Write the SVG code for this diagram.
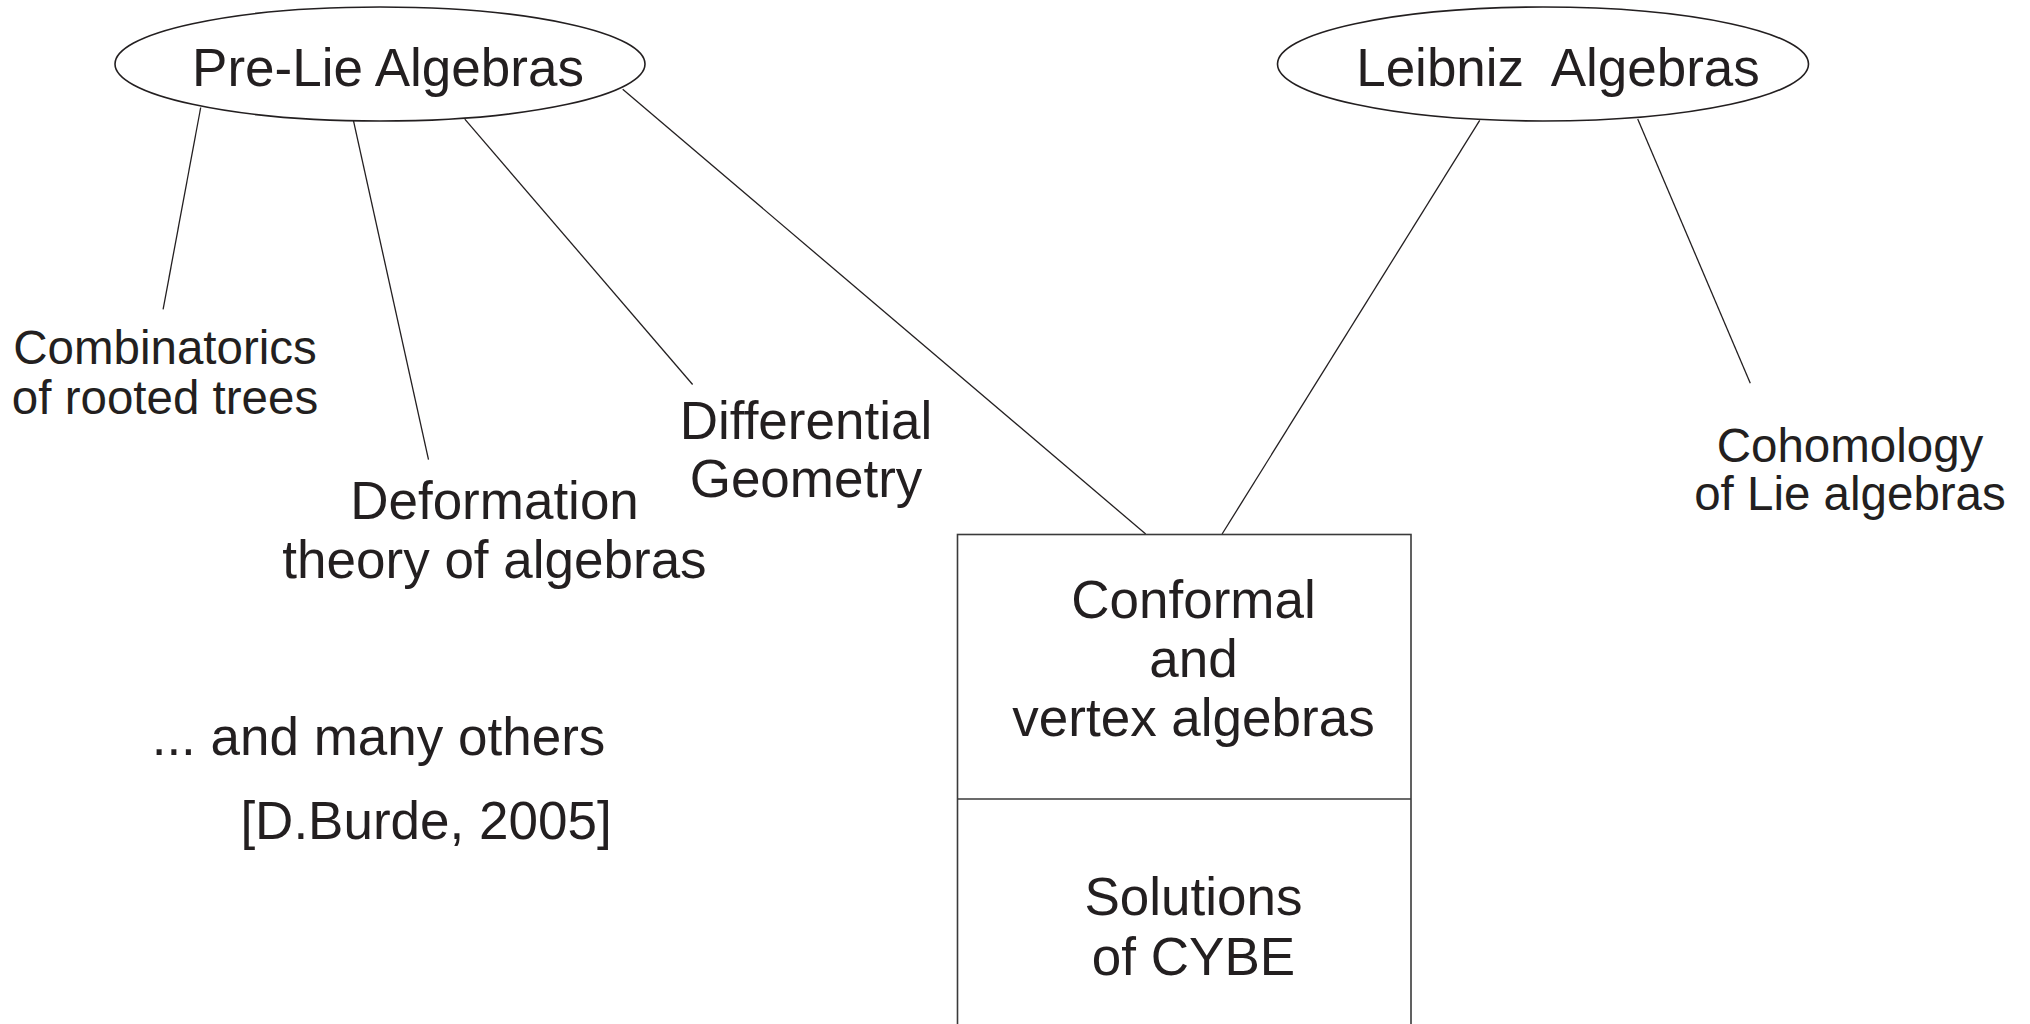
<svg xmlns="http://www.w3.org/2000/svg" width="2030" height="1024" viewBox="0 0 2030 1024">
<style>
.t{font-family:"Liberation Sans",Arial,sans-serif;fill:#231f20;text-anchor:middle}
.big{font-size:53px}
.mid{font-size:47.5px}
.ell{fill:none;stroke:#231f20;stroke-width:1.6}
.box{fill:none;stroke:#3a3a3a;stroke-width:1.6}
.conn line{stroke:#231f20;stroke-width:1.3}
</style>
<rect width="2030" height="1024" fill="#fff"/>
<g id="connectors" class="conn">
<line x1="200.7" y1="107.5" x2="163.1" y2="309.4"/>
<line x1="353.4" y1="120.4" x2="428.5" y2="459.6"/>
<line x1="464.8" y1="119.1" x2="692.6" y2="384.5"/>
<line x1="622.7" y1="89.3" x2="1145.7" y2="534"/>
<line x1="1479.7" y1="120.4" x2="1222.1" y2="534"/>
<line x1="1637.7" y1="119.1" x2="1750.3" y2="383.2"/>
</g>
<g id="prelie">
<ellipse class="ell" cx="380" cy="64" rx="265" ry="57"/>
<text class="t big" x="388" y="85.5">Pre-Lie Algebras</text>
</g>
<g id="leibniz">
<ellipse class="ell" cx="1543" cy="64" rx="265.5" ry="57"/>
<text class="t big" x="1558" y="85.5" xml:space="preserve">Leibniz  Algebras</text>
</g>
<g id="combinatorics">
<text class="t mid" x="165" y="364">Combinatorics</text>
<text class="t mid" x="165" y="414">of rooted trees</text>
</g>
<g id="deformation">
<text class="t big" x="494.5" y="519">Deformation</text>
<text class="t big" x="494.5" y="578">theory of algebras</text>
</g>
<g id="differential">
<text class="t big" x="806" y="439">Differential</text>
<text class="t big" x="806" y="497">Geometry</text>
</g>
<g id="cohomology">
<text class="t mid" x="1850" y="462">Cohomology</text>
<text class="t mid" x="1850" y="510">of Lie algebras</text>
</g>
<g id="others">
<text class="t big" x="378.5" y="755">... and many others</text>
<text class="t big" x="426" y="839">[D.Burde, 2005]</text>
</g>
<g id="box">
<rect class="box" x="957.5" y="534.5" width="453.5" height="520"/>
<line class="box" x1="957.5" y1="799" x2="1411" y2="799"/>
<text class="t big" x="1193.5" y="618">Conformal</text>
<text class="t big" x="1193.5" y="677">and</text>
<text class="t big" x="1193.5" y="736">vertex algebras</text>
<text class="t big" x="1193.5" y="915">Solutions</text>
<text class="t big" x="1193.5" y="975">of CYBE</text>
</g>
</svg>
